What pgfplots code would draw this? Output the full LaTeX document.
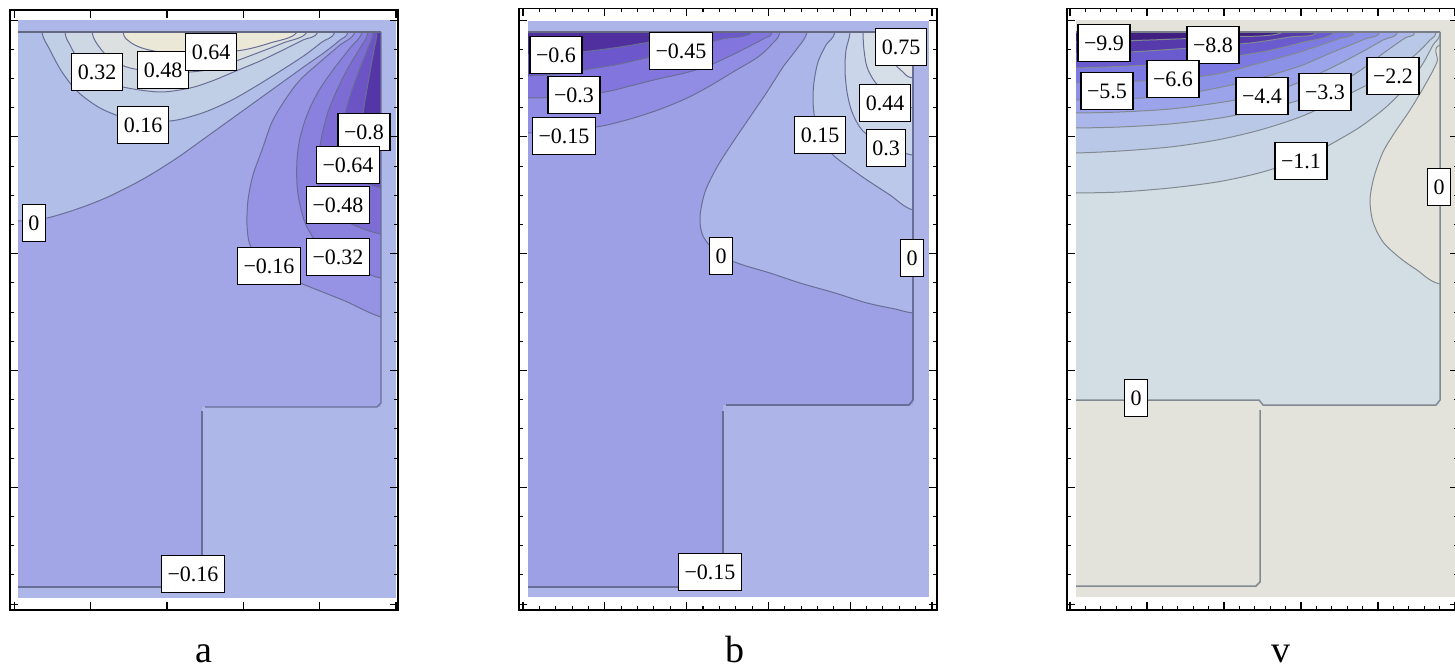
\documentclass[border=0pt]{standalone}
\usepackage{fontspec}
\setmainfont{Liberation Serif}
\usepackage{pgfplots}
\pgfplotsset{compat=1.18}

% panel a
\definecolor{aStrip}{RGB}{174,184,232}
\definecolor{aBase}{RGB}{162,166,230}
\definecolor{aP0}{RGB}{176,190,232}
\definecolor{aP1}{RGB}{192,206,230}
\definecolor{aP2}{RGB}{206,216,228}
\definecolor{aP3}{RGB}{220,224,224}
\definecolor{aP4}{RGB}{236,232,216}
\definecolor{aN1}{RGB}{150,146,228}
\definecolor{aN2}{RGB}{138,128,222}
\definecolor{aN3}{RGB}{124,108,212}
\definecolor{aN4}{RGB}{108,84,196}
\definecolor{aN5}{RGB}{84,54,166}
\definecolor{aLine}{RGB}{105,110,150}
\definecolor{aTop}{RGB}{100,104,128}
% panel b
\definecolor{bStrip}{RGB}{172,180,232}
\definecolor{bBase}{RGB}{158,160,230}
\definecolor{bP0}{RGB}{172,182,232}
\definecolor{bP1}{RGB}{188,200,234}
\definecolor{bP2}{RGB}{202,213,234}
\definecolor{bP3}{RGB}{214,222,232}
\definecolor{bP4}{RGB}{226,230,230}
\definecolor{bP5}{RGB}{238,238,234}
\definecolor{bN1}{RGB}{146,141,228}
\definecolor{bN2}{RGB}{130,118,222}
\definecolor{bN3}{RGB}{108,88,204}
\definecolor{bN4}{RGB}{80,48,158}
% panel v
\definecolor{vBeige}{RGB}{227,227,219}
\definecolor{vBase}{RGB}{210,221,228}
\definecolor{vN1}{RGB}{199,213,230}
\definecolor{vN2}{RGB}{186,200,232}
\definecolor{vN3}{RGB}{171,183,234}
\definecolor{vN4}{RGB}{155,164,234}
\definecolor{vN5}{RGB}{140,145,232}
\definecolor{vN6}{RGB}{124,121,226}
\definecolor{vN7}{RGB}{106,92,206}
\definecolor{vN8}{RGB}{86,58,172}
\definecolor{vN9}{RGB}{64,30,130}
\definecolor{vLine}{RGB}{130,138,145}
\definecolor{vTop}{RGB}{120,125,135}

\tikzset{
  lbl/.style={draw=black, line width=1.2pt, fill=white,
    font=\fontsize{22}{24}\selectfont, inner xsep=6pt, inner ysep=0pt,
    minimum height=37pt, text height=15pt, text depth=0pt},
}
\pgfplotsset{
  panel/.style={
    x=1pt, y=1pt, anchor=south west,
    axis on top, ymin=-610, ymax=-9,
    xticklabels={}, yticklabels={},
    tick align=inside, tick pos=both,
    major tick length=8pt, minor tick length=4pt,
    tick style={black, line width=1.1pt},
    axis line style={black, line width=1.4pt},
    minor x tick num=4, minor y tick num=3,
    ytick={-20.1,-136.9,-253.7,-370.5,-487.3,-604.1},
    xlabel style={at={(axis description cs:0.5,0)}, anchor=base,
      yshift=-52pt, inner sep=0pt, text depth=0pt,
      font=\fontsize{38}{40}\selectfont},
  },
  rect/.style={draw=none, fill=#1},
  regA/.style={smooth, tension=0.5, draw=aLine, line width=1pt, fill=#1},
  regB/.style={smooth, tension=0.5, draw=aLine, line width=1pt, fill=#1},
  regV/.style={smooth, tension=0.5, draw=vLine, line width=1pt, fill=#1},
}

\begin{document}
\begin{tikzpicture}
\useasboundingbox (0pt,-668pt) rectangle (1455pt,0pt);

% ---------------- panel a ----------------
\begin{axis}[panel, at={(10pt,-610pt)}, xmin=10, xmax=398, ymax=-10,
  xtick={14.4,90.7,167.0,243.3,319.6,396.0}, xlabel={a}]
\addplot[rect=aBase] coordinates {(18,-20) (396,-20) (396,-598) (18,-598)} -- cycle;
% positive levels
\addplot[regA=aP0] coordinates {(-5,-221) (18,-221) (47,-218) (80,-208) (110,-196) (145,-178) (177,-158) (205,-138) (230,-120) (255,-102) (280,-84) (305,-66) (325,-52) (340,-40) (348,-32) (352,5) (-5,5)} -- cycle;
\addplot[regA=aP1] coordinates {(42,5) (42,-32) (50,-50) (62,-72) (78,-92) (100,-108) (125,-118) (150,-122) (177,-120) (205,-112) (232,-100) (258,-85) (282,-70) (305,-55) (322,-42) (335,-32) (338,5)} -- cycle;
\addplot[regA=aP2] coordinates {(65,5) (65,-32) (70,-45) (80,-62) (97,-77) (123,-87) (160,-92) (190,-88) (212,-81) (236,-71) (260,-61) (283,-50) (303,-40) (318,-32) (321,5)} -- cycle;
\addplot[regA=aP3] coordinates {(92,5) (92,-32) (100,-48) (112,-60) (130,-68) (160,-72) (190,-72) (212,-69) (236,-61) (260,-52) (283,-43) (307,-32) (309,5)} -- cycle;
\addplot[regA=aP4] coordinates {(123,5) (123,-32) (130,-42) (142,-48) (160,-52) (185,-53) (210,-53) (243,-50) (270,-43) (297,-32) (299,5)} -- cycle;
% negative levels
\addplot[regA=aN1] coordinates {(355,5) (355,-32) (340,-45) (320,-62) (300,-80) (285,-100) (272,-122) (262,-150) (253,-175) (248,-200) (247,-225) (250,-245) (262,-262) (285,-276) (310,-287) (345,-301) (381,-317) (420,-322) (420,5)} -- cycle;
\addplot[regA=aN2] coordinates {(362,5) (362,-32) (350,-48) (333,-70) (318,-92) (307,-115) (300,-138) (297,-160) (297,-185) (300,-205) (306,-225) (318,-244) (338,-260) (362,-271) (381,-278) (420,-282) (420,5)} -- cycle;
\addplot[regA=aN3] coordinates {(368,5) (368,-32) (360,-48) (348,-68) (337,-90) (328,-112) (322,-135) (318,-160) (318,-182) (322,-200) (335,-214) (356,-226) (381,-234) (420,-238) (420,5)} -- cycle;
\addplot[regA=aN4] coordinates {(373,5) (373,-32) (368,-48) (360,-68) (352,-90) (346,-110) (342,-130) (341,-150) (346,-167) (360,-180) (381,-188) (420,-192) (420,5)} -- cycle;
\addplot[regA=aN5] coordinates {(377,5) (377,-32) (374,-50) (370,-72) (366,-95) (363,-115) (364,-131) (370,-142) (381,-148) (420,-152) (420,5)} -- cycle;
% outside the domain
\addplot[rect=aStrip] coordinates {(18,-20) (396,-20) (396,-32) (18,-32)} -- cycle;
\addplot[rect=aStrip] coordinates {(381,-20) (396,-20) (396,-598) (381,-598)} -- cycle;
\addplot[rect=aStrip] coordinates {(18,-587) (396,-587) (396,-598) (18,-598)} -- cycle;
\addplot[rect=aStrip] coordinates {(202,-407) (396,-407) (396,-598) (202,-598)} -- cycle;
\addplot[rect=white] coordinates {(0,0) (18,0) (18,-620) (0,-620)} -- cycle;
\addplot[rect=white] coordinates {(396,0) (430,0) (430,-620) (396,-620)} -- cycle;
\addplot[rect=white] coordinates {(0,0) (430,0) (430,-20) (0,-20)} -- cycle;
\addplot[rect=white] coordinates {(0,-598) (430,-598) (430,-620) (0,-620)} -- cycle;
% boundary lines
\addplot[aTop, line width=2.6pt] coordinates {(18,-32) (381,-32)};
\addplot[aLine, line width=1.2pt] coordinates {(381,-32) (381,-403) (377,-407) (205,-407)};
\addplot[aLine, line width=1.2pt] coordinates {(202,-411) (202,-587) (18,-587)};
% level labels
\node[lbl] at (axis cs:97,-72) {0.32};
\node[lbl] at (axis cs:163,-70) {0.48};
\node[lbl] at (axis cs:211,-52) {0.64};
\node[lbl] at (axis cs:143,-125) {0.16};
\node[lbl] at (axis cs:34,-223) {0};
\node[lbl] at (axis cs:364,-132) {−0.8};
\node[lbl] at (axis cs:348,-165) {−0.64};
\node[lbl] at (axis cs:338,-205) {−0.48};
\node[lbl] at (axis cs:338,-257) {−0.32};
\node[lbl] at (axis cs:269,-266) {−0.16};
\node[lbl] at (axis cs:193,-574) {−0.16};
\end{axis}

% ---------------- panel b ----------------
\begin{axis}[panel, at={(519pt,-610pt)}, xmin=519, xmax=937, ymax=-8.5,
  xtick={523,604.8,686.6,768.4,850.2,932}, xlabel={b},
  xlabel style={xshift=7pt}]
\addplot[rect=bBase] coordinates {(528,-21) (929,-21) (929,-597) (528,-597)} -- cycle;
% positive levels
\addplot[regB=bP0] coordinates {(807,5) (807,-32) (796,-50) (783,-67) (767,-92) (750,-117) (733,-142) (717,-167) (705,-192) (700,-217) (703,-236) (718,-254) (740,-264) (770,-273) (800,-283) (835,-293) (867,-303) (895,-309) (913,-313) (960,-318) (960,5)} -- cycle;
\addplot[regB=bP1] coordinates {(835,5) (835,-32) (826,-45) (818,-62) (814,-82) (813,-100) (815,-120) (822,-140) (833,-155) (850,-168) (867,-180) (890,-195) (913,-210) (960,-215) (960,5)} -- cycle;
\addplot[regB=bP2] coordinates {(850,5) (850,-32) (846,-50) (845,-70) (847,-92) (852,-112) (862,-130) (880,-143) (897,-150) (913,-155) (960,-158) (960,5)} -- cycle;
\addplot[regB=bP3] coordinates {(863,5) (863,-32) (864,-50) (867,-67) (875,-82) (890,-97) (913,-108) (960,-112) (960,5)} -- cycle;
\addplot[regB=bP4] coordinates {(880,5) (880,-32) (885,-48) (893,-62) (903,-72) (913,-78) (960,-82) (960,5)} -- cycle;
\addplot[regB=bP5] coordinates {(893,5) (893,-32) (902,-44) (913,-54) (960,-58) (960,5)} -- cycle;
% negative levels
\addplot[regB=bN1] coordinates {(500,-133) (528,-133) (570,-130) (602,-126) (630,-119) (658,-110) (685,-99) (708,-87) (733,-72) (758,-57) (772,-44) (780,-32) (782,5) (500,5)} -- cycle;
\addplot[regB=bN2] coordinates {(500,-98) (528,-98) (560,-97) (605,-92) (630,-86) (658,-79) (685,-73) (708,-66) (730,-56) (748,-47) (765,-38) (772,-32) (774,5) (500,5)} -- cycle;
\addplot[regB=bN3] coordinates {(500,-76) (528,-76) (560,-74) (590,-69) (620,-64) (650,-57) (690,-48) (722,-39) (752,-32) (754,5) (500,5)} -- cycle;
\addplot[regB=bN4] coordinates {(500,-55) (528,-55) (560,-54) (590,-51) (620,-47) (650,-42) (680,-37) (700,-32) (702,5) (500,5)} -- cycle;
% outside the domain
\addplot[rect=bStrip] coordinates {(528,-21) (929,-21) (929,-32) (528,-32)} -- cycle;
\addplot[rect=bStrip] coordinates {(913,-21) (929,-21) (929,-597) (913,-597)} -- cycle;
\addplot[rect=bStrip] coordinates {(528,-587) (929,-587) (929,-597) (528,-597)} -- cycle;
\addplot[rect=bStrip] coordinates {(723,-405) (929,-405) (929,-597) (723,-597)} -- cycle;
\addplot[rect=white] coordinates {(490,0) (528,0) (528,-620) (490,-620)} -- cycle;
\addplot[rect=white] coordinates {(929,0) (970,0) (970,-620) (929,-620)} -- cycle;
\addplot[rect=white] coordinates {(490,0) (970,0) (970,-21) (490,-21)} -- cycle;
\addplot[rect=white] coordinates {(490,-597) (970,-597) (970,-620) (490,-620)} -- cycle;
% boundary lines
\addplot[aTop, line width=2.6pt] coordinates {(528,-32) (913,-32)};
\addplot[aLine, line width=1.6pt] coordinates {(913,-32) (913,-400) (909,-405) (726,-405)};
\addplot[aLine, line width=1.2pt] coordinates {(723,-411) (723,-587) (528,-587)};
% level labels
\node[lbl] at (axis cs:556,-55) {−0.6};
\node[lbl] at (axis cs:681,-51) {−0.45};
\node[lbl] at (axis cs:574,-95) {−0.3};
\node[lbl] at (axis cs:564,-136) {−0.15};
\node[lbl] at (axis cs:901,-47) {0.75};
\node[lbl] at (axis cs:885,-103) {0.44};
\node[lbl] at (axis cs:820,-135) {0.15};
\node[lbl] at (axis cs:886,-148) {0.3};
\node[lbl] at (axis cs:721,-256) {0};
\node[lbl] at (axis cs:912,-258) {0};
\node[lbl] at (axis cs:710,-572) {−0.15};
\end{axis}

% ---------------- panel v ----------------
\begin{axis}[panel, at={(1067pt,-610pt)}, xmin=1067, xmax=1458, ymax=-8.5,
  xtick={1070,1147,1224,1301,1378,1455}, xlabel={v},
  xlabel style={xshift=18pt}]
\addplot[rect=vBeige] coordinates {(1076,-20) (1470,-20) (1470,-597) (1076,-597)} -- cycle;
\addplot[rect=vBase] coordinates {(1076,-32) (1440,-32) (1440,-405) (1262,-405) (1259,-400) (1076,-400)} -- cycle;
% positive zone at the right wall
\addplot[regV=vBeige] coordinates {(1500,-40) (1440,-45) (1437,-62) (1425,-85) (1410,-110) (1395,-132) (1383,-152) (1374,-177) (1370,-200) (1373,-222) (1383,-242) (1400,-258) (1417,-270) (1440,-284) (1500,-290)} -- cycle;
% negative levels
\addplot[regV=vN1] coordinates {(1040,-193) (1076,-193) (1120,-192) (1170,-188) (1217,-182) (1255,-174) (1285,-165) (1310,-155) (1333,-143) (1360,-127) (1385,-108) (1405,-88) (1422,-65) (1433,-45) (1440,-34) (1445,5) (1040,5)} -- cycle;
\addplot[regV=vN2] coordinates {(1040,-153) (1076,-153) (1120,-151) (1170,-147) (1217,-140) (1260,-130) (1300,-117) (1333,-102) (1365,-86) (1393,-72) (1415,-55) (1430,-40) (1436,-32) (1438,5) (1040,5)} -- cycle;
\addplot[regV=vN3] coordinates {(1040,-128) (1076,-128) (1120,-127) (1170,-124) (1220,-118) (1260,-110) (1300,-100) (1330,-88) (1358,-72) (1385,-52) (1405,-38) (1415,-32) (1418,5) (1040,5)} -- cycle;
\addplot[regV=vN4] coordinates {(1040,-113) (1076,-113) (1120,-112) (1170,-109) (1217,-103) (1262,-95) (1300,-82) (1333,-67) (1360,-53) (1383,-40) (1398,-32) (1400,5) (1040,5)} -- cycle;
\addplot[regV=vN5] coordinates {(1040,-100) (1076,-100) (1120,-99) (1170,-96) (1217,-88) (1260,-78) (1300,-66) (1333,-52) (1365,-39) (1380,-32) (1382,5) (1040,5)} -- cycle;
\addplot[regV=vN6] coordinates {(1040,-83) (1076,-83) (1120,-82) (1173,-79) (1217,-74) (1260,-63) (1300,-52) (1338,-39) (1355,-32) (1357,5) (1040,5)} -- cycle;
\addplot[regV=vN7] coordinates {(1040,-68) (1076,-68) (1130,-66) (1183,-63) (1230,-57) (1267,-51) (1300,-43) (1335,-32) (1337,5) (1040,5)} -- cycle;
\addplot[regV=vN8] coordinates {(1040,-54) (1076,-54) (1130,-52) (1190,-48) (1250,-43) (1290,-37) (1317,-32) (1319,5) (1040,5)} -- cycle;
\addplot[regV=vN9] coordinates {(1040,-42) (1076,-42) (1150,-40) (1217,-37) (1283,-32) (1285,5) (1040,5)} -- cycle;
% outside the domain
\addplot[rect=vBeige] coordinates {(1076,-20) (1470,-20) (1470,-32) (1076,-32)} -- cycle;
\addplot[rect=vBeige] coordinates {(1440,-20) (1470,-20) (1470,-597) (1440,-597)} -- cycle;
\addplot[rect=white] coordinates {(1040,0) (1076,0) (1076,-620) (1040,-620)} -- cycle;
\addplot[rect=white] coordinates {(1040,0) (1470,0) (1470,-20) (1040,-20)} -- cycle;
\addplot[rect=white] coordinates {(1040,-597) (1470,-597) (1470,-620) (1040,-620)} -- cycle;
% boundary lines
\addplot[vTop, line width=2.4pt] coordinates {(1076,-32) (1440,-32)};
\addplot[vLine, line width=1.5pt] coordinates {(1440,-32) (1440,-400) (1436,-405) (1263,-405) (1259,-400) (1076,-400)};
\addplot[vLine, line width=1.5pt] coordinates {(1260,-410) (1260,-582) (1256,-586) (1076,-586)};
% level labels
\node[lbl] at (axis cs:1104,-43) {−9.9};
\node[lbl] at (axis cs:1213,-45) {−8.8};
\node[lbl] at (axis cs:1107,-91) {−5.5};
\node[lbl] at (axis cs:1173,-79) {−6.6};
\node[lbl] at (axis cs:1262,-96) {−4.4};
\node[lbl] at (axis cs:1325,-92) {−3.3};
\node[lbl] at (axis cs:1393,-76) {−2.2};
\node[lbl] at (axis cs:1301,-161) {−1.1};
\node[lbl] at (axis cs:1439,-187) {0};
\node[lbl] at (axis cs:1136,-398) {0};
\end{axis}
\end{tikzpicture}
\end{document}
